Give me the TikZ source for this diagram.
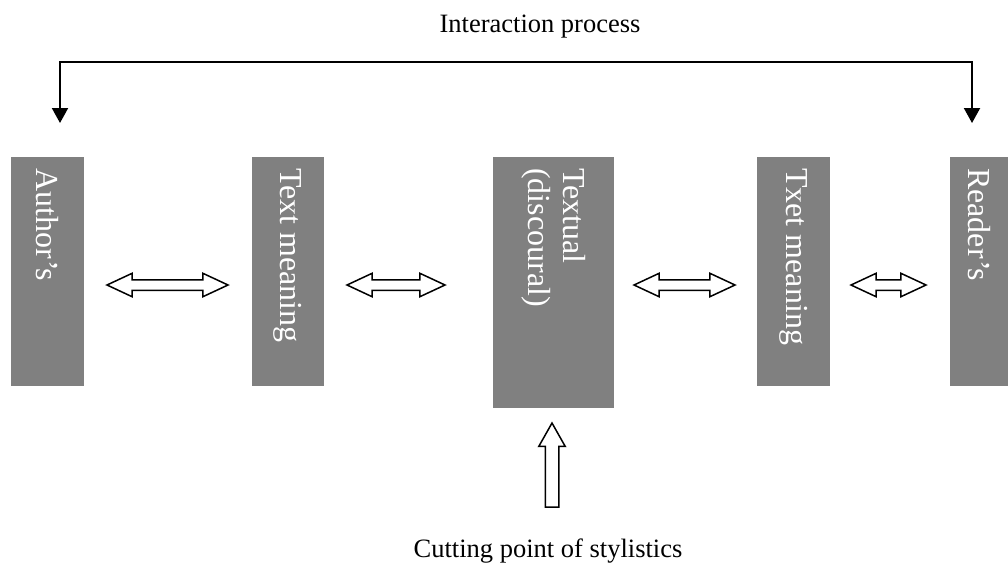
\documentclass[tikz,border=0pt]{standalone}
\usepackage{fontspec}
\setmainfont{Liberation Serif}
\usetikzlibrary{shapes.arrows, arrows.meta, positioning}
\definecolor{boxgray}{HTML}{808080}
\newcommand{\sidetext}[2]{\rotatebox{-90}{\parbox{#1}{\raggedright #2}}}

\begin{document}
\begin{tikzpicture}[
    x=1pt, y=-1pt,
    stage/.style={rectangle, fill=boxgray, text=white, inner xsep=0pt, inner ysep=11pt, anchor=north west, font=\fontsize{32pt}{35pt}\selectfont},
    headline/.style={anchor=base, font=\fontsize{26.5pt}{30pt}\selectfont},
    dblarrow/.style={double arrow, draw, line width=1.5pt, fill=white, inner xsep=0pt, inner ysep=4.5pt, minimum width=22pt, double arrow head extend=6.5pt, double arrow tip angle=50},
    uparrow/.style={single arrow, draw, line width=1.5pt, fill=white, rotate=90, inner xsep=0pt, inner ysep=6pt, minimum width=25pt, minimum height=84pt, single arrow head extend=6.5pt, single arrow tip angle=59},
    railarrow/.style={<->, >={Triangle[width=16pt, length=15pt]}, line width=2pt}
]
\useasboundingbox (0,0) rectangle (1008,563);

% Stages
\node[stage, minimum width=73pt] (author) at (11,157) {\sidetext{207pt}{Author’s}};
\node[stage, minimum width=72pt, right=167pt of author.north east, anchor=north west] (meaningL) {\sidetext{207pt}{Text meaning}};
\node[stage, minimum width=121pt, right=169pt of meaningL.north east, anchor=north west] (textual) {\sidetext{229pt}{Textual\\(discoural)}};
\node[stage, minimum width=73pt, right=143pt of textual.north east, anchor=north west] (meaningR) {\sidetext{207pt}{Txet meaning}};
\node[stage, minimum width=60pt, right=119pt of meaningR.north east, anchor=north west] (reader) {\sidetext{207pt}{Reader’s}};

% Links between stages
\node[dblarrow, minimum height=121pt] (dbl1) at (167.5,285) {};
\node[dblarrow, minimum height=98pt] (dbl2) at (396,285) {};
\node[dblarrow, minimum height=101pt] (dbl3) at (684.5,285) {};
\node[dblarrow, minimum height=75pt] (dbl4) at (888.5,285) {};

% Interaction rail
\coordinate (railL) at (60,123);
\coordinate (railR) at (972,123);
\coordinate (railtop) at (0,62);
\draw[railarrow] (railL) -- (railL |- railtop) -| (railR);
\node[headline] (interaction) at (540,32) {Interaction process};

% Stylistics
\node[uparrow] (cutarrow) at (552,471) {};
\node[headline] (cutting) at (548,557) {Cutting point of stylistics};

\end{tikzpicture}
\end{document}
